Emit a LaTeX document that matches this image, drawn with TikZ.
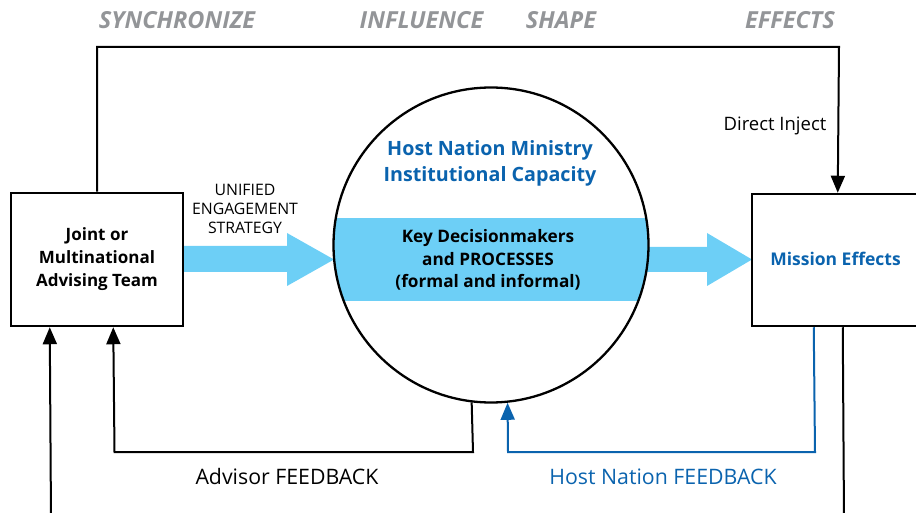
\documentclass[tikz,border=0pt]{standalone}
\usepackage{fontspec}
\setmainfont{Open Sans}
\usetikzlibrary{arrows.meta,calc}
\definecolor{lblue}{HTML}{6DCFF6}
\definecolor{dblue}{HTML}{0A63AE}
\definecolor{lgray}{HTML}{939598}
\begin{document}
\begin{tikzpicture}[x=1pt,y=-1pt,
  line/.style={line width=2pt},
  blueline/.style={line width=2pt, draw=dblue},
  box/.style={draw, line width=2.5pt, inner sep=0pt},
  tipk/.style={-{Triangle[width=14pt,length=17pt]}},
  tipb/.style={-{Triangle[width=14pt,length=17pt,fill=dblue]}},
  phase/.style={text=lgray, font=\fontsize{23.5}{26}\selectfont\bfseries\itshape, inner sep=0pt},
  bigarrow/.style={fill=lblue, draw=none}]
\useasboundingbox (0,0) rectangle (916,513);
\clip (0,0) rectangle (916,513);

% phase labels
\node[phase] (lsync) at (177,20) {SYNCHRONIZE};
\node[phase] (linf) at (421.5,20) {INFLUENCE};
\node[phase] (lshape) at (561,20) {SHAPE};
\node[phase] (leff) at (790,20) {EFFECTS};

% band inside circle
\begin{scope}
  \clip (491,245) circle (157.5pt);
  \fill[lblue] (300,218) rectangle (700,301);
\end{scope}

% big blue arrows
\fill[bigarrow] (183,246) -- (287,246) -- (287,233) -- (334,259.5) -- (287,286) -- (287,272) -- (183,272) -- cycle;
\fill[bigarrow] (647,247) -- (707,247) -- (707,233) -- (752,259.5) -- (707,286) -- (707,272) -- (647,272) -- cycle;

% main nodes
\node[circle, draw, line width=2.3pt, minimum size=315pt, inner sep=0pt] (circ) at (491,245) {};
\node[box, minimum width=172pt, minimum height=133pt] (lbox) at (97,259.5) {};
\node[box, minimum width=168pt, minimum height=132pt] (rbox) at (836,260) {};

% texts
\node[align=center, font=\fontsize{17}{23}\selectfont\bfseries] (ltext) at (97,259) {Joint or\\Multinational\\Advising Team};
\node[text=dblue, font=\fontsize{17.5}{20}\selectfont\bfseries] (rtext) at (835.5,259) {Mission Effects};
\node[text=dblue, align=center, font=\fontsize{19.7}{26}\selectfont\bfseries] (ctop) at (490,163) {Host Nation Ministry\\Institutional Capacity};
\node[align=center, font=\fontsize{17.2}{22.5}\selectfont\bfseries] (cmid) at (488,260) {Key Decisionmakers\\and PROCESSES\\(formal and informal)};
\node[align=center, font=\fontsize{15.8}{19}\selectfont] (ues) at (245,209) {UNIFIED\\ENGAGEMENT\\STRATEGY};
\node[font=\fontsize{18.5}{20}\selectfont] (dinj) at (775,126) {Direct Inject};
\node[font=\fontsize{21.3}{24}\selectfont] (afb) at (287,477) {Advisor FEEDBACK};
\node[text=dblue, font=\fontsize{21.3}{24}\selectfont] (hfb) at (663,477) {Host Nation FEEDBACK};

% port coordinates
\coordinate (rtop) at ($(rbox.north west)+(87,0)$);
\coordinate (topL) at (97,47);
\coordinate (topR) at (839,47);
\coordinate (lport1) at ($(lbox.south west)+(40,0)$);
\coordinate (lport2) at ($(lbox.south west)+(103.5,0)$);
\coordinate (rport1) at ($(rbox.south west)+(63,0)$);
\coordinate (rport2) at ($(rbox.south west)+(92,0)$);
\coordinate (afbL) at (114.5,452);
\coordinate (afbR) at (473,452);
\coordinate (hfbR) at (815,452);
\coordinate (hfbL) at (508,452);
\coordinate (offL) at (51,520);
\coordinate (offR) at (844,520);

% connectors
\draw[line, tipk] (lbox.north) -- (topL) -- (topR) -- (rtop);
\draw[line, tipk] (circ.263) -- (afbR) -- (afbL) -- (lport2);
\draw[line, tipk] (offL) -- (lport1);
\draw[line] (rport2) -- (offR);
\draw[blueline, tipb] (rport1) -- (hfbR) -- (hfbL) -- (circ.276);
\end{tikzpicture}
\end{document}
